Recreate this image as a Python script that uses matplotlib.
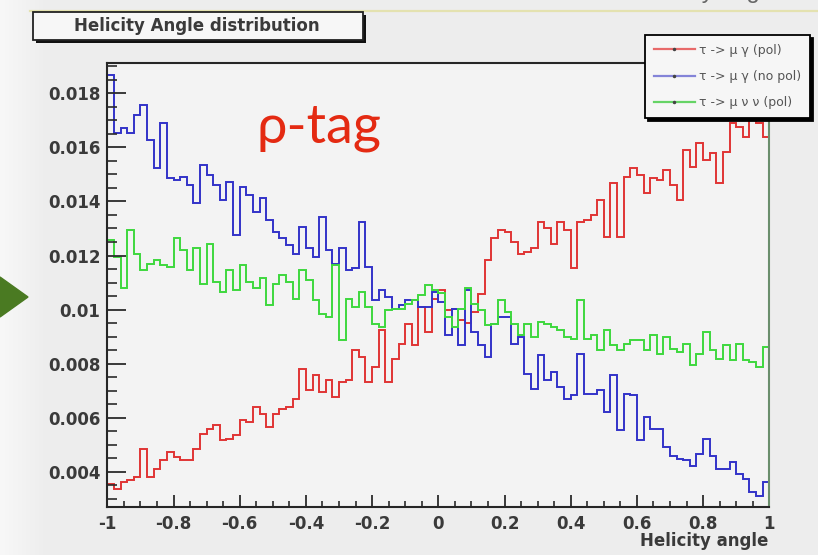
import numpy as np
import matplotlib
matplotlib.use('Agg')
import matplotlib.pyplot as plt
from matplotlib.lines import Line2D
from matplotlib.patches import Rectangle, Polygon
from matplotlib.ticker import MultipleLocator, FuncFormatter

W, H = 818, 555

# 100 bins of helicity angle from -1 to 1
EDGES = np.linspace(-1., 1., 101)

MU_GAMMA_POL = [
    0.00356, 0.00337, 0.00362, 0.00368, 0.00380, 0.00485, 0.00380, 0.00411, 0.00442, 0.00473,
    0.00454, 0.00442, 0.00442, 0.00485, 0.00541, 0.00559, 0.00572, 0.00516, 0.00522, 0.00535,
    0.00590, 0.00584, 0.00640, 0.00615, 0.00565, 0.00615, 0.00633, 0.00640, 0.00670, 0.00781,
    0.00701, 0.00757, 0.00695, 0.00738, 0.00677, 0.00732, 0.00738, 0.00849, 0.00825, 0.00732,
    0.00788, 0.00923, 0.00732, 0.00818, 0.00874, 0.00948, 0.00868, 0.01010, 0.00917, 0.01041,
    0.01072, 0.01000, 0.01004, 0.00960, 0.00950, 0.00990, 0.01059, 0.01183, 0.01263, 0.01294,
    0.01288, 0.01251, 0.01207, 0.01214, 0.01226, 0.01325, 0.01300, 0.01244, 0.01325, 0.01294,
    0.01152, 0.01325, 0.01331, 0.01349, 0.01405, 0.01269, 0.01467, 0.01269, 0.01491, 0.01522,
    0.01497, 0.01430, 0.01485, 0.01479, 0.01516, 0.01460, 0.01405, 0.01590, 0.01528, 0.01615,
    0.01553, 0.01578, 0.01467, 0.01584, 0.01689, 0.01677, 0.01640, 0.01701, 0.01689, 0.01640,
]

MU_GAMMA_NOPOL = [
    0.01868, 0.01652, 0.01670, 0.01652, 0.01720, 0.01757, 0.01627, 0.01522, 0.01689, 0.01485,
    0.01479, 0.01491, 0.01460, 0.01393, 0.01535, 0.01497, 0.01460, 0.01405, 0.01473, 0.01275,
    0.01454, 0.01423, 0.01362, 0.01411, 0.01331, 0.01288, 0.01263, 0.01238, 0.01207, 0.01306,
    0.01226, 0.01195, 0.01343, 0.01220, 0.01170, 0.01226, 0.01146, 0.01152, 0.01325, 0.01158,
    0.01035, 0.01072, 0.01047, 0.01004, 0.01016, 0.01035, 0.01035, 0.01010, 0.01010, 0.01065,
    0.01028, 0.00905, 0.01004, 0.00868, 0.01072, 0.00917, 0.00868, 0.00825, 0.00948, 0.00973,
    0.00973, 0.00874, 0.00899, 0.00763, 0.00708, 0.00831, 0.00738, 0.00769, 0.00714, 0.00670,
    0.00683, 0.00837, 0.00689, 0.00689, 0.00701, 0.00621, 0.00757, 0.00553, 0.00689, 0.00683,
    0.00516, 0.00602, 0.00559, 0.00559, 0.00491, 0.00460, 0.00448, 0.00442, 0.00423, 0.00467,
    0.00522, 0.00460, 0.00411, 0.00411, 0.00436, 0.00393, 0.00374, 0.00325, 0.00312, 0.00362,
]

MU_NU_NU_POL = [
    0.01257, 0.01195, 0.01078, 0.01294, 0.01207, 0.01146, 0.01170, 0.01183, 0.01164, 0.01158,
    0.01263, 0.01220, 0.01146, 0.01226, 0.01096, 0.01244, 0.01102, 0.01065, 0.01146, 0.01072,
    0.01164, 0.01102, 0.01078, 0.01115, 0.01016, 0.01095, 0.01127, 0.01103, 0.01041, 0.01146,
    0.01109, 0.01035, 0.00985, 0.00973, 0.01164, 0.00886, 0.01041, 0.01010, 0.01065, 0.01010,
    0.00948, 0.00936, 0.00998, 0.01004, 0.01004, 0.01022, 0.01035, 0.01053, 0.01090, 0.01072,
    0.01060, 0.00973, 0.00936, 0.01004, 0.01078, 0.01022, 0.00998, 0.00942, 0.00948, 0.01035,
    0.00991, 0.00948, 0.00905, 0.00948, 0.00899, 0.00954, 0.00948, 0.00936, 0.00924, 0.00899,
    0.00893, 0.01035, 0.00893, 0.00905, 0.00849, 0.00924, 0.00868, 0.00849, 0.00874, 0.00887,
    0.00887, 0.00849, 0.00905, 0.00837, 0.00899, 0.00855, 0.00843, 0.00874, 0.00794, 0.00837,
    0.00917, 0.00849, 0.00818, 0.00868, 0.00812, 0.00874, 0.00812, 0.00806, 0.00787, 0.00862,
]

LABELS = ['τ -> μ γ (pol)', 'τ -> μ γ (no pol)', 'τ -> μ ν ν (pol)']
LINE_COLORS = ['#e03434', '#3232c8', '#3ed83e']
LEGEND_COLORS = ['#e86a6a', '#8484d8', '#66d466']

FONT = 'DejaVu Sans'
TEXT_GREY = '#3a3a3a'


def fx(px):
    return px / W


def fy(py):
    return 1 - py / H


fig = plt.figure(figsize=(W / 100, H / 100), dpi=100, facecolor='#ededed')

# slide background: whitish strip on the left, green arrow, top rule
bg = fig.add_axes([0, 0, 1, 1], zorder=-10)
grad = np.linspace(0, 1, 64)[None, :]
bg.imshow(grad, extent=(0, 48, H, 0), cmap=matplotlib.colors.LinearSegmentedColormap.from_list(
    'strip', ['#f8f8f8', '#ededed']), aspect='auto')
bg.add_patch(Polygon([(0, 277), (28, 297), (0, 317)], closed=True, color='#4a7a22'))
bg.plot([30, W], [11, 11], color='#e4e2b0', lw=1.6)
# slide heading, cut off by the top edge of the screenshot
bg.text(778, -2, 'Helicity angle', ha='right', va='baseline', fontsize=17,
        family='Liberation Sans', color='#666666')
bg.set_xlim(0, W)
bg.set_ylim(H, 0)
bg.axis('off')

ax = fig.add_axes([fx(107.3), fy(507), (769.3 - 107.3) / W, (507 - 63.5) / H])
ax.set_facecolor('#f3f3f3')

handles = []
for vals, col, lcol, lab in zip([MU_GAMMA_POL, MU_GAMMA_NOPOL, MU_NU_NU_POL],
                                LINE_COLORS, LEGEND_COLORS, LABELS):
    ax.stairs(vals, EDGES, color=col, lw=1.4, baseline=None)
    handles.append(Line2D([], [], color=lcol, lw=1.6, marker='.', markersize=3,
                          markeredgecolor='#444444', markerfacecolor='#444444', label=lab))

ax.set_xlim(-1, 1)
ax.set_ylim(0.0027, 0.0191)

ax.xaxis.set_major_locator(MultipleLocator(0.2))
ax.xaxis.set_minor_locator(MultipleLocator(0.05))
ax.yaxis.set_major_locator(MultipleLocator(0.002))
ax.yaxis.set_minor_locator(MultipleLocator(0.0005))
ax.xaxis.set_major_formatter(FuncFormatter(lambda v, p: '%g' % round(v, 3)))
ax.yaxis.set_major_formatter(FuncFormatter(lambda v, p: '%g' % round(v, 4)))

ax.tick_params(axis='y', which='major', direction='in', length=14, width=1.3,
               color='#2b2b2b', pad=5)
ax.tick_params(axis='y', which='minor', direction='in', length=7, width=1.2, color='#2b2b2b')
ax.tick_params(axis='x', which='major', direction='in', length=9, width=1.3,
               color='#2b2b2b', pad=6)
ax.tick_params(axis='x', which='minor', direction='in', length=4, width=1.2, color='#2b2b2b')
for lbl in ax.get_xticklabels() + ax.get_yticklabels():
    lbl.set_family(FONT)
    lbl.set_fontweight('bold')
    lbl.set_fontsize(12)
    lbl.set_color(TEXT_GREY)

for side in ['top', 'left', 'bottom']:
    ax.spines[side].set_color('#262626')
    ax.spines[side].set_linewidth(1.5)
ax.spines['right'].set_color('#6a8e6c')
ax.spines['right'].set_linewidth(1.5)

fig.text(fx(768), fy(541), 'Helicity angle', ha='right', va='center', fontsize=12,
         fontweight='bold', family=FONT, color=TEXT_GREY)

leg = ax.legend(handles=handles, loc='upper left', bbox_to_anchor=(fx(645), fy(35)),
                bbox_transform=fig.transFigure, borderaxespad=0, fancybox=False,
                edgecolor='black', facecolor='#f6f6f6', framealpha=1,
                shadow={'color': 'black', 'alpha': 1}, numpoints=1,
                prop={'family': FONT, 'size': 9}, borderpad=0.7, labelspacing=1.05,
                handlelength=3.3, handletextpad=0.35)
leg.get_frame().set_linewidth(1.3)
for t in leg.get_texts():
    t.set_color('#555555')

# title box with ROOT-style shadow
fig.patches.append(Rectangle((fx(36), fy(43)), fx(330), 28 / H, transform=fig.transFigure,
                             facecolor='#111111', edgecolor='none', zorder=1))
fig.patches.append(Rectangle((fx(33), fy(40)), fx(330), 28 / H, transform=fig.transFigure,
                             facecolor='#f7f7f7', edgecolor='#222222', lw=1.3, zorder=2))
fig.text(fx(197), fy(26), 'Helicity Angle distribution', ha='center', va='center',
         fontsize=12, fontweight='bold', family=FONT, color=TEXT_GREY, zorder=3)

fig.text(fx(257), fy(142), 'ρ-tag', ha='left', va='baseline', fontsize=39,
         family=['Lato', 'DejaVu Sans'], color='#e42a12')

fig.savefig('out.png', dpi=100, facecolor=fig.get_facecolor())
